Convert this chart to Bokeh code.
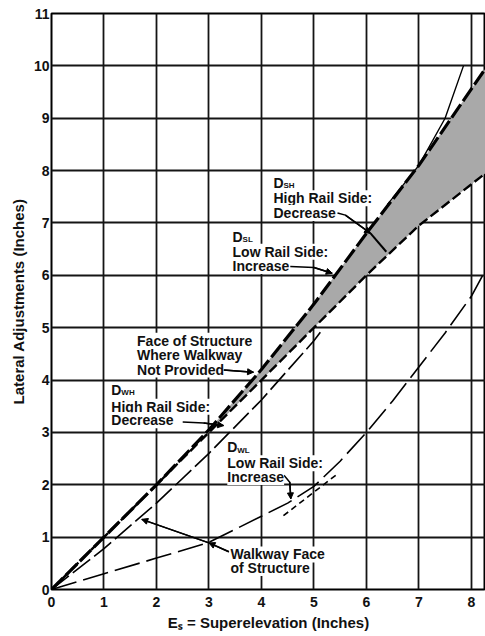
from bokeh.plotting import figure
from bokeh.models import Label, Arrow, NormalHead, Range1d, FixedTicker
from bokeh.embed import file_html
from bokeh.resources import INLINE

# ---- data ----
x_ticks = [0, 1, 2, 3, 4, 5, 6, 7, 8]
y_ticks = [0, 1, 2, 3, 4, 5, 6, 7, 8, 9, 10, 11]

# structure face band (D_SH upper edge, D_SL lower edge)
band_es = [0, 1, 2, 3, 4, 5, 6, 7, 8.27]
band_upper = [0, 1.0, 2.0, 3.05, 4.2, 5.45, 6.8, 8.1, 9.95]
band_lower = [0, 1.0, 2.0, 3.0, 4.0, 5.0, 6.0, 6.95, 7.95]

# thin steep line at the top of the band
steep_es = [6.4, 7.0, 7.5, 7.85]
steep_adj = [7.35, 8.1, 9.0, 10.0]

# walkway face, high rail side (D_WH)
wh_es = [0, 1, 2, 3, 4, 5, 5.15]
wh_adj = [0, 0.78, 1.65, 2.6, 3.62, 4.75, 4.95]

# walkway face, low rail side (D_WL)
wl_es = [0, 1, 2, 3, 4, 4.5, 5, 5.5, 6, 6.5, 7, 7.5, 8, 8.27]
wl_adj = [0, 0.3, 0.6, 0.9, 1.4, 1.65, 1.97, 2.45, 3.0, 3.6, 4.25, 4.9, 5.6, 6.1]

# short dashed tangent near E=5
tan_es = [4.42, 5.44]
tan_adj = [1.41, 2.2]

FONT = "Liberation Sans"

p = figure(width=485, height=636, output_backend="svg", toolbar_location=None,
           x_range=Range1d(0, 8.27), y_range=Range1d(0, 11),
           min_border_left=51, min_border_right=0, min_border_top=13, min_border_bottom=47)
p.background_fill_color = "white"
p.border_fill_color = "white"
p.outline_line_color = "black"
p.outline_line_width = 2

for g, t in ((p.xgrid, x_ticks), (p.ygrid, y_ticks)):
    g.ticker = FixedTicker(ticks=t)
    g.grid_line_color = "#151515"
    g.grid_line_width = 1.8
p.xaxis.ticker = FixedTicker(ticks=x_ticks)
p.yaxis.ticker = FixedTicker(ticks=y_ticks)
for ax in (p.xaxis, p.yaxis):
    ax.axis_line_color = None
    ax.major_tick_line_color = None
    ax.minor_tick_line_color = None
    ax.major_tick_out = 0
    ax.major_tick_in = 0
    ax.major_label_text_font = FONT
    ax.major_label_text_font_style = "bold"
    ax.major_label_text_font_size = "14px"
    ax.major_label_text_color = "#111"
    ax.axis_label_text_font = FONT
    ax.axis_label_text_font_style = "bold"
    ax.axis_label_text_font_size = "15px"
    ax.axis_label_text_color = "#111"
p.xaxis.major_label_standoff = 7
p.yaxis.major_label_standoff = 2
p.xaxis.axis_label = "Eₛ = Superelevation (Inches)"
p.xaxis.axis_label_standoff = 4
p.yaxis.axis_label = "Lateral Adjustments (Inches)"
p.yaxis.axis_label_standoff = 4

# shaded band
p.varea(x=band_es[2:], y1=band_lower[2:], y2=band_upper[2:], fill_color="#a9a9a9")

# lines
p.line(band_es, band_upper, line_color="black", line_width=3.2, line_dash="16 4")
p.line(band_es, band_lower, line_color="black", line_width=2.4, line_dash="10 4")
p.line(steep_es, steep_adj, line_color="black", line_width=1.4)
p.line(wh_es, wh_adj, line_color="black", line_width=1.6, line_dash="22 5")
p.line(wl_es, wl_adj, line_color="black", line_width=1.6, line_dash="26 7")
p.line(tan_es, tan_adj, line_color="black", line_width=1.6, line_dash="6 4")


def txt(x, y, s, size="14px"):
    p.add_layout(Label(x=x, y=y, text=s, text_font=FONT, text_font_style="bold",
                       text_font_size=size, text_color="#111", text_baseline="middle",
                       text_align="left", background_fill_color="white"))


def dlabel(x, y, sub):
    txt(x, y, "D")
    p.add_layout(Label(x=x, y=y, text=sub, x_offset=10, y_offset=-3, text_font=FONT,
                       text_font_style="bold", text_font_size="8px", text_color="#111",
                       text_baseline="middle", text_align="left"))


dlabel(4.23, 7.77, "SH")
txt(4.23, 7.47, "High Rail Side:")
txt(4.23, 7.19, "Decrease")

dlabel(3.45, 6.74, "SL")
txt(3.45, 6.45, "Low Rail Side:")
txt(3.45, 6.18, "Increase")

txt(1.63, 4.75, "Face of Structure")
txt(1.63, 4.48, "Where Walkway")
txt(1.63, 4.20, "Not Provided")

dlabel(1.14, 3.81, "WH")
txt(1.14, 3.49, "High Rail Side:")
txt(1.14, 3.23, "Decrease")

dlabel(3.35, 2.72, "WL")
txt(3.35, 2.41, "Low Rail Side:")
txt(3.35, 2.15, "Increase")

txt(3.41, 0.67, "Walkway Face")
txt(3.41, 0.41, "of Structure")


def leader(xs, ys, head=True):
    p.line(xs, ys, line_color="black", line_width=1.5)
    if head:
        p.add_layout(Arrow(x_start=xs[-2], y_start=ys[-2], x_end=xs[-1], y_end=ys[-1],
                           line_color="black", line_width=1.5,
                           end=NormalHead(size=6, fill_color="black", line_color="black")))


leader([5.45, 5.6, 6.08], [7.19, 7.15, 6.8])
p.line([6.08, 6.38], [6.8, 6.45], line_color="black", line_width=2)
leader([4.55, 5.0, 5.35], [6.17, 6.15, 6.04])
leader([3.28, 3.85], [4.19, 4.15])
leader([2.5, 2.9, 3.28], [3.2, 3.18, 3.13])
leader([4.43, 4.54, 4.56], [2.18, 2.05, 1.73])
leader([3.38, 3.0], [0.72, 0.89])
leader([3.0, 1.72], [0.89, 1.34])

open("out.html", "w").write(file_html(p, INLINE))
